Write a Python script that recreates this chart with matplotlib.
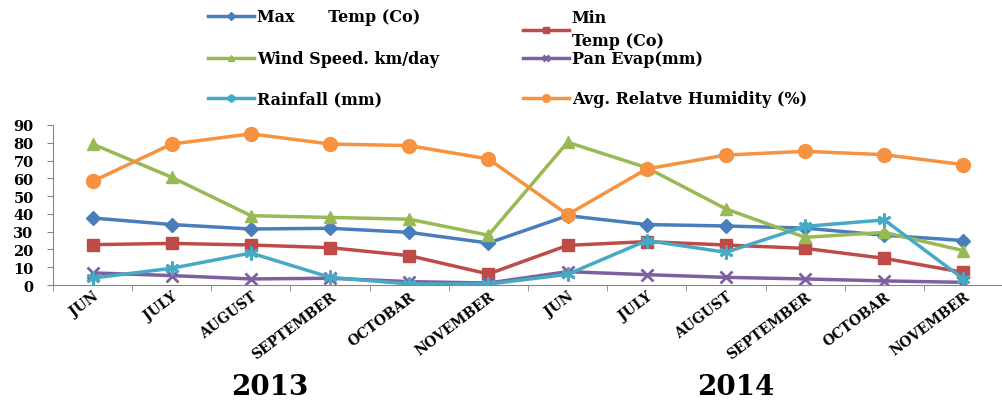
import matplotlib
matplotlib.use('Agg')
import matplotlib.pyplot as plt

# month labels, two seasons (2013, 2014)
months = ['JUN', 'JULY', 'AUGUST', 'SEPTEMBER', 'OCTOBAR', 'NOVEMBER',
          'JUN', 'JULY', 'AUGUST', 'SEPTEMBER', 'OCTOBAR', 'NOVEMBER']
years = ['2013', '2014']

max_temp = [37.7, 34.0, 31.5, 31.9, 29.6, 23.6, 39.0, 34.0, 33.2, 32.0, 28.0, 25.0]
min_temp = [22.7, 23.4, 22.5, 21.0, 16.5, 6.2, 22.3, 24.4, 22.5, 20.6, 15.0, 7.1]
wind_speed = [79.3, 60.6, 39.0, 38.0, 37.0, 28.0, 80.3, 66.0, 42.8, 26.8, 29.6, 19.3]
pan_evap = [6.8, 5.3, 3.4, 3.8, 1.9, 1.1, 7.5, 5.8, 4.3, 3.4, 2.3, 1.5]
rainfall = [3.9, 9.4, 18.0, 4.3, 0.6, 0.5, 6.0, 25.0, 18.4, 33.0, 36.6, 3.4]
humidity = [58.3, 79.3, 85.0, 79.3, 78.4, 70.9, 39.6, 65.3, 73.1, 75.2, 73.3, 67.7]

serif = 'DejaVu Serif'
W, H = 1003, 406

fig = plt.figure(figsize=(W / 100, H / 100), dpi=100)
ax = fig.add_axes([53 / W, 1 - 286 / H, 950 / W, 160 / H])

x = list(range(len(months)))

series = [
    (max_temp, 'Max      Temp (Co)', '#4A7EBB', 'D', 7),
    (min_temp, 'Min\nTemp (Co)', '#BE4B48', 's', 9),
    (wind_speed, 'Wind Speed. km/day', '#98B954', '^', 9),
    (pan_evap, 'Pan Evap(mm)', '#7D60A0', 'x', 8),
    (rainfall, 'Rainfall (mm)', '#46AAC5', (6, 2, 0), 10),
    (humidity, 'Avg. Relatve Humidity (%)', '#F69240', 'o', 10),
]

handles = []
for vals, lab, col, mk, ms in series:
    ln, = ax.plot(x, vals, color=col, lw=2.5, marker=mk, ms=ms,
                  mew=2 if mk in ('x', (6, 2, 0)) else 1,
                  mec=col, mfc=col, label=lab)
    handles.append(ln)

ax.set_xlim(-0.5, 11.3)
ax.set_ylim(0, 90)
ax.set_yticks(range(0, 91, 10))
ax.set_xticks(x)
ax.set_xticks([i - 0.5 for i in range(len(months) + 1)], minor=True)
ax.set_xticklabels(months, rotation=37, ha='right', rotation_mode='anchor',
                   fontfamily=serif, fontweight='bold', fontsize=10)
for t in ax.get_yticklabels():
    t.set_fontfamily(serif)
    t.set_fontweight('bold')
    t.set_fontsize(10.5)

ax.tick_params(axis='x', which='major', length=0, pad=3)
ax.tick_params(axis='x', which='minor', length=4, color='#868686', direction='out')
ax.tick_params(axis='y', length=4, color='#868686', pad=10)
for s in ('top', 'right'):
    ax.spines[s].set_visible(False)
for s in ('left', 'bottom'):
    ax.spines[s].set_color('#868686')

# legend: one box per entry, laid out in two columns / three rows
leg_font = {'family': serif, 'weight': 'bold', 'size': 11.5}
leg_pos = {0: (208, 18), 2: (208, 60), 4: (208, 100),
           1: (523, 30), 3: (523, 60), 5: (523, 100)}
for i, (px, py) in leg_pos.items():
    leg = fig.legend([handles[i]], [series[i][1]], loc='center left',
                     bbox_to_anchor=(px / W, 1 - py / H), frameon=False,
                     prop=leg_font, borderpad=0, borderaxespad=0,
                     handlelength=2.9, handletextpad=0.15, markerscale=0.55)
    leg.get_texts()[0].set_linespacing(1.45)

# year labels under each season
for yr, px in zip(years, (270, 736)):
    fig.text(px / W, 1 - 388 / H, yr, ha='center', va='center',
             fontfamily=serif, fontweight='bold', fontsize=20)

fig.savefig('out.png', dpi=100)
